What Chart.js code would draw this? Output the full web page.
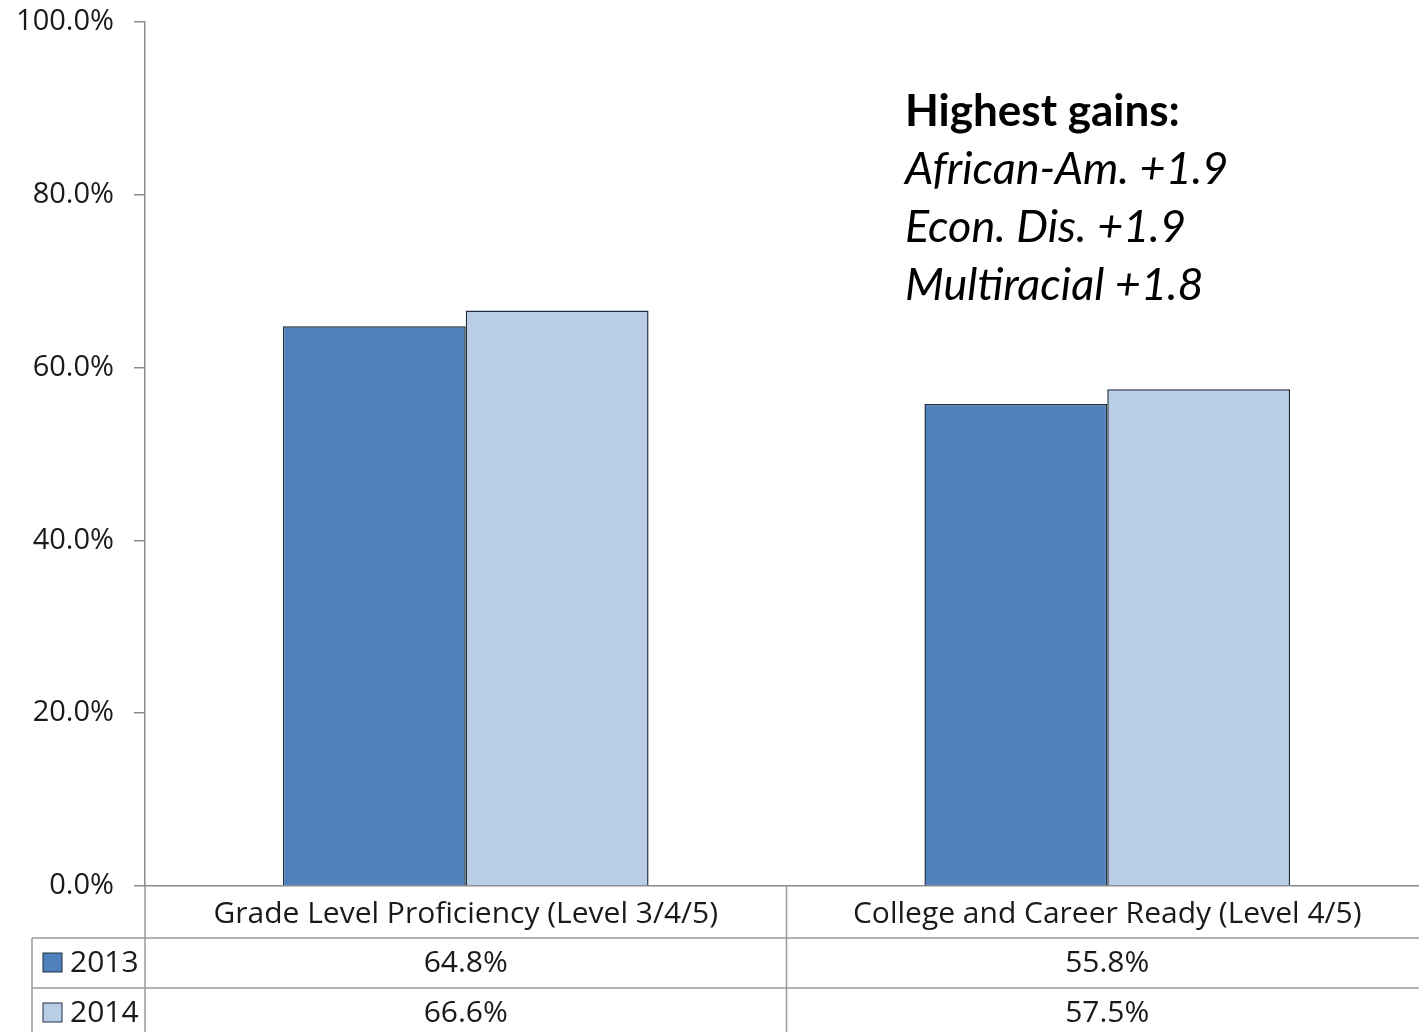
<!DOCTYPE html>
<html>
<head>
<meta charset="utf-8">
<script src="https://cdn.jsdelivr.net/npm/chart.js@4"></script>
<style>
  body { margin: 0; background: #fff; overflow: hidden; }
  #wrap { width: 1430px; height: 1032px; }
</style>
</head>
<body>
<div id="wrap"><canvas id="gainsChart" width="1430" height="1032"></canvas></div>
<script>
const categories = ["Grade Level Proficiency (Level 3/4/5)", "College and Career Ready (Level 4/5)"];
const seriesNames = ["2013", "2014"];
const values2013 = [64.8, 55.8];
const values2014 = [66.6, 57.5];
const noteTitle = "Highest gains:";
const noteLines = ["African-Am. +1.9", "Econ. Dis. +1.9", "Multiracial +1.8"];

const colors = ["#4F81BD", "#B9CDE5"];
const FONT = "'Open Sans', sans-serif";
const NOTE_FONT = "Lato, sans-serif";

// draws the excel-like data table under the plot plus the note text
const tablePlugin = {
  id: "dataTable",
  afterDraw(chart) {
    const ctx = chart.ctx;
    const x = chart.scales.x;
    const area = chart.chartArea;
    const rows = [area.bottom, 938, 988, 1040];
    const leftCol = 32;
    const bounds = [area.left];
    for (let i = 0; i < categories.length; i++) {
      const next = i < categories.length - 1
        ? (x.getPixelForValue(i) + x.getPixelForValue(i + 1)) / 2
        : area.right;
      bounds.push(next);
    }
    ctx.save();
    ctx.strokeStyle = "#9a9a9a";
    ctx.lineWidth = 1.5;
    ctx.beginPath();
    for (let r = 1; r < rows.length; r++) {
      ctx.moveTo(leftCol, rows[r]);
      ctx.lineTo(chart.width, rows[r]);
    }
    ctx.moveTo(leftCol, rows[1]);
    ctx.lineTo(leftCol, rows[3]);
    bounds.forEach((b) => {
      ctx.moveTo(b, rows[0]);
      ctx.lineTo(b, rows[3]);
    });
    ctx.stroke();

    ctx.fillStyle = "#1a1a1a";
    ctx.textAlign = "center";
    ctx.textBaseline = "alphabetic";
    ctx.font = "30px " + FONT;
    categories.forEach((c, i) => {
      ctx.fillText(c, x.getPixelForValue(i), rows[0] + 37);
    });
    const series = [values2013, values2014];
    series.forEach((vals, s) => {
      const base = rows[s + 1] + 34;
      vals.forEach((v, i) => {
        ctx.fillText(v.toFixed(1) + "%", x.getPixelForValue(i), base);
      });
      // legend key
      ctx.fillStyle = colors[s];
      ctx.fillRect(43, base - 19, 19, 19);
      ctx.strokeStyle = "#1f2f40";
      ctx.lineWidth = 1;
      ctx.strokeRect(43, base - 19, 19, 19);
      ctx.fillStyle = "#1a1a1a";
      ctx.textAlign = "left";
      ctx.fillText(seriesNames[s], 70, base);
      ctx.textAlign = "center";
    });

    // note
    ctx.textAlign = "left";
    ctx.fillStyle = "#000";
    ctx.font = "bold 44px " + NOTE_FONT;
    ctx.fillText(noteTitle, 905, 126);
    ctx.font = "italic 45px " + NOTE_FONT;
    noteLines.forEach((t, i) => {
      ctx.fillText(t, 905, 184 + i * 58);
    });
    ctx.restore();
  },
};

new Chart(document.getElementById("gainsChart"), {
  type: "bar",
  data: {
    labels: categories,
    datasets: [
      {
        label: seriesNames[0],
        data: values2013,
        backgroundColor: colors[0],
        borderColor: "#1f2f40",
        borderWidth: 1.5,
      },
      {
        label: seriesNames[1],
        data: values2014,
        backgroundColor: colors[1],
        borderColor: "#1f2f40",
        borderWidth: 1.5,
      },
    ],
  },
  options: {
    responsive: false,
    animation: false,
    layout: { padding: { top: 22, right: 2, left: 0, bottom: 0 } },
    datasets: { bar: { barPercentage: 1, categoryPercentage: 0.57 } },
    plugins: { legend: { display: false }, tooltip: { enabled: false } },
    scales: {
      x: {
        grid: { display: false },
        border: { display: true, color: "#8c8c8c", width: 1.5 },
        ticks: { display: false },
        afterFit: (scale) => { scale.height = 146; },
      },
      y: {
        min: 0,
        max: 100,
        ticks: {
          stepSize: 20,
          padding: 20,
          color: "#1a1a1a",
          font: { family: FONT, size: 29 },
          callback: (v) => v.toFixed(1) + "%",
        },
        grid: { drawOnChartArea: false, tickLength: 11, color: "#8c8c8c", lineWidth: 1.5 },
        border: { color: "#8c8c8c", width: 1.5 },
        afterFit: (scale) => {
          scale.width = 145;
          scale.paddingTop = 0;
          scale.paddingBottom = 0;
        },
      },
    },
  },
  plugins: [tablePlugin],
});
</script>
</body>
</html>
